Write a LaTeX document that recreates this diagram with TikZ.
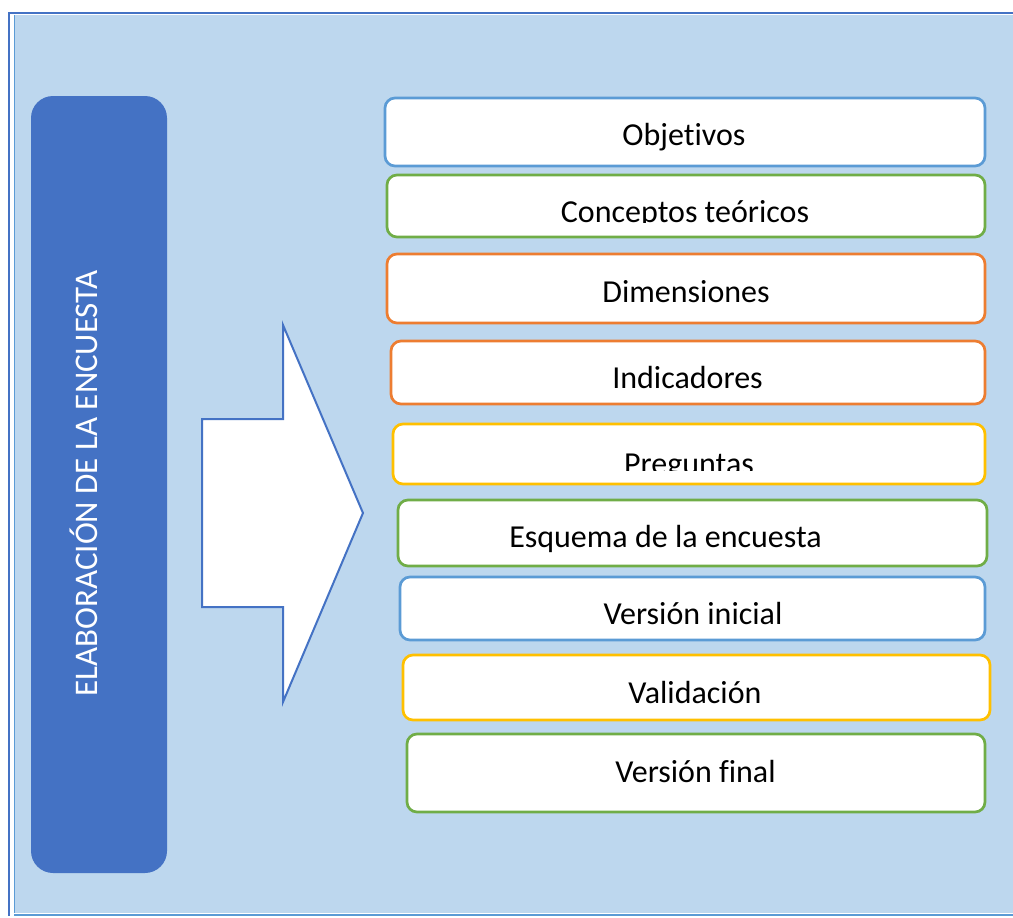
\documentclass[tikz,border=0pt]{standalone}
\usepackage{fontspec}
\setmainfont{Carlito}[Ligatures={NoCommon}]
\definecolor{frameblue}{HTML}{4472C4}
\definecolor{lineblue}{HTML}{5B9BD5}
\definecolor{bgblue}{HTML}{BDD7EE}
\definecolor{bxblue}{HTML}{5B9BD5}
\definecolor{bxgreen}{HTML}{70AD47}
\definecolor{bxorange}{HTML}{ED7D31}
\definecolor{bxyellow}{HTML}{FFC000}
\tikzset{
  stepbox/.style={draw=#1, fill=white, line width=2.7pt, rounded corners=10pt, inner sep=0pt},
  steptext/.style={anchor=base, inner sep=0pt, font=\fontsize{32}{38}\selectfont, text=black},
  sidebox/.style={fill=frameblue, rounded corners=22pt, inner sep=0pt},
  sidetext/.style={rotate=90, anchor=base, inner sep=0pt, text=white, font=\fontsize{33}{40}\selectfont},
  bigarrow/.style={draw=frameblue, fill=white, line width=2pt, line join=miter}
}
\begin{document}
\begin{tikzpicture}[x=1pt,y=-1pt]
\useasboundingbox (0,0) rectangle (1013,918);
\fill[white] (0,0) rectangle (1013,918);
\fill[bgblue] (15,15) rectangle (1013,913);
\draw[frameblue, line width=2pt] (8,13) -- (1013,13);
\draw[frameblue, line width=1.6pt] (9,13) -- (9,916);
\draw[lineblue, line width=1.6pt] (14.5,15) -- (14.5,913);
\draw[lineblue, line width=2pt] (14,914.5) -- (1013,914.5);

% left vertical box
\node[sidebox, minimum width=136pt, minimum height=777pt] (side) at (99,484.5) {};
\node[sidetext] (sidelbl) at (97,483.5) {ELABORACIÓN DE LA ENCUESTA};

% big arrow
\draw[bigarrow] (202,419) -- (283,419) -- (283,325) -- (363,513) -- (283,702) -- (283,607) -- (202,607) -- cycle;

% boxes
\node[stepbox=bxblue,   minimum width=600pt, minimum height=68pt] (b1) at (685,132) {};
\node[stepbox=bxgreen,  minimum width=598pt, minimum height=62pt] (b2) at (686,206) {};
\node[stepbox=bxorange, minimum width=598pt, minimum height=69pt] (b3) at (686,288.5) {};
\node[stepbox=bxorange, minimum width=594pt, minimum height=63pt] (b4) at (688,372.5) {};
\node[stepbox=bxyellow, minimum width=592pt, minimum height=60pt] (b5) at (689,454) {};
\node[stepbox=bxgreen,  minimum width=589pt, minimum height=66pt] (b6) at (692.5,533) {};
\node[stepbox=bxblue,   minimum width=585pt, minimum height=63pt] (b7) at (692.5,608.5) {};
\node[stepbox=bxyellow, minimum width=587pt, minimum height=65pt] (b8) at (696.5,687.5) {};
\node[stepbox=bxgreen,  minimum width=578pt, minimum height=78pt] (b9) at (696,773) {};

% texts
\node[steptext] (t1) at (684,145) {Objetivos};
\begin{scope}
\clip (390,180) rectangle (980,222.5);
\node[steptext] (t2) at (685,222) {Conceptos teóricos};
\end{scope}
\node[steptext] (t3) at (686,302) {Dimensiones};
\node[steptext] (t4) at (687.5,388.5) {Indicadores};
\begin{scope}
\clip (398,428) rectangle (980,470);
\node[steptext] (t5) at (689,474) {Preguntas};
\end{scope}
\node[steptext] (t6) at (665.5,547) {Esquema de la encuesta};
\node[steptext] (t7) at (693,624) {Versión inicial};
\node[steptext] (t8) at (695,703) {Validación};
\node[steptext] (t9) at (695.5,782) {Versión final};
\end{tikzpicture}
\end{document}
